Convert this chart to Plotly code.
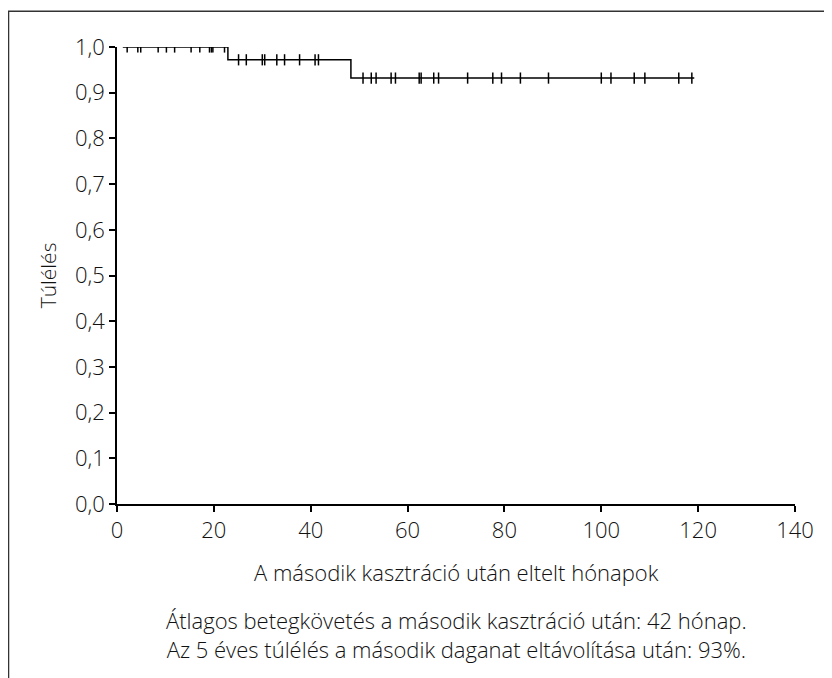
import plotly.graph_objects as go

# Kaplan-Meier step data (months, survival)
step_times = [1.2, 22.9, 48.3, 119.2]
step_surv = [1.0, 0.972, 0.932, 0.932]

# censored observations (months)
censored_times = [2.1, 4.3, 4.9, 8.5, 10.2, 11.9, 15.3, 17.1, 19.1, 19.5, 19.8, 22.2,
                  25.1, 26.7, 30.0, 30.5, 33.0, 34.6, 37.7, 40.9, 41.6,
                  50.8, 52.5, 53.5, 56.6, 57.5, 62.4, 62.8, 65.4, 66.4, 72.4,
                  77.6, 79.4, 83.3, 89.1, 100.0, 102.0, 106.8, 109.0, 116.0, 118.7]

x_ticks = [0, 20, 40, 60, 80, 100, 120, 140]
y_ticks = [0.0, 0.1, 0.2, 0.3, 0.4, 0.5, 0.6, 0.7, 0.8, 0.9, 1.0]
y_tick_labels = ["0,0", "0,1", "0,2", "0,3", "0,4", "0,5", "0,6", "0,7", "0,8", "0,9", "1,0"]

x_title = "A második kasztráció után eltelt hónapok"
y_title = "Túlélés"
note_1 = "Átlagos betegkövetés a második kasztráció után: 42 hónap."
note_2 = "Az 5 éves túlélés a második daganat eltávolítása után: 93%."


def surv_at(t):
    s = step_surv[0]
    for tt, ss in zip(step_times, step_surv):
        if t >= tt:
            s = ss
    return s


censored_surv = [surv_at(t) for t in censored_times]

FONT = "Open Sans"
TXT = "#111111"

fig = go.Figure()
fig.add_trace(go.Scatter(
    x=step_times, y=step_surv, mode="lines", line_shape="hv",
    line=dict(color="black", width=1.5), showlegend=False, hoverinfo="skip"))
fig.add_trace(go.Scatter(
    x=censored_times, y=censored_surv, mode="markers",
    marker=dict(symbol="line-ns", size=8, line=dict(color="black", width=1.5)),
    showlegend=False))

fig.update_layout(
    width=832, height=678,
    margin=dict(l=109, r=45, t=39, b=182),
    paper_bgcolor="white", plot_bgcolor="white",
    font=dict(family=FONT, size=22, color=TXT, weight=300),
    separators=",.",
    xaxis=dict(range=[0, 140], tickvals=x_ticks, ticks="outside", ticklen=6,
               tickwidth=1.5, tickcolor="black", showline=True, linecolor="black",
               linewidth=1.5, showgrid=False, zeroline=False,
               tickfont=dict(size=22, family=FONT, color=TXT, weight=300)),
    yaxis=dict(range=[0, 1.0], tickvals=y_ticks, ticktext=y_tick_labels,
               ticks="outside", ticklen=6, tickwidth=1.5, tickcolor="black",
               showline=True, linecolor="black", linewidth=1.5, showgrid=False,
               zeroline=False, tickfont=dict(size=22, family=FONT, color=TXT, weight=300)),
)

fig.add_annotation(text=x_title, xref="paper", yref="paper", x=0.5, y=-0.149,
                   showarrow=False, xanchor="center", yanchor="middle",
                   font=dict(size=22))
fig.add_annotation(text=y_title, xref="paper", yref="paper", x=-0.102, y=0.5,
                   showarrow=False, textangle=-90, xanchor="center", yanchor="middle",
                   font=dict(size=21))
fig.add_annotation(text=note_1 + "<br>" + note_2, xref="paper", yref="paper",
                   x=0.5, y=-0.286, showarrow=False, xanchor="center",
                   yanchor="middle", align="center", font=dict(size=22))

# outer frame
fig.add_shape(type="path", xref="paper", yref="paper",
              path="M -0.1600,-0.45 L -0.1600,1.078 L 1.3,1.078",
              line=dict(color="#333333", width=1.5))

fig.write_html("out.html")
